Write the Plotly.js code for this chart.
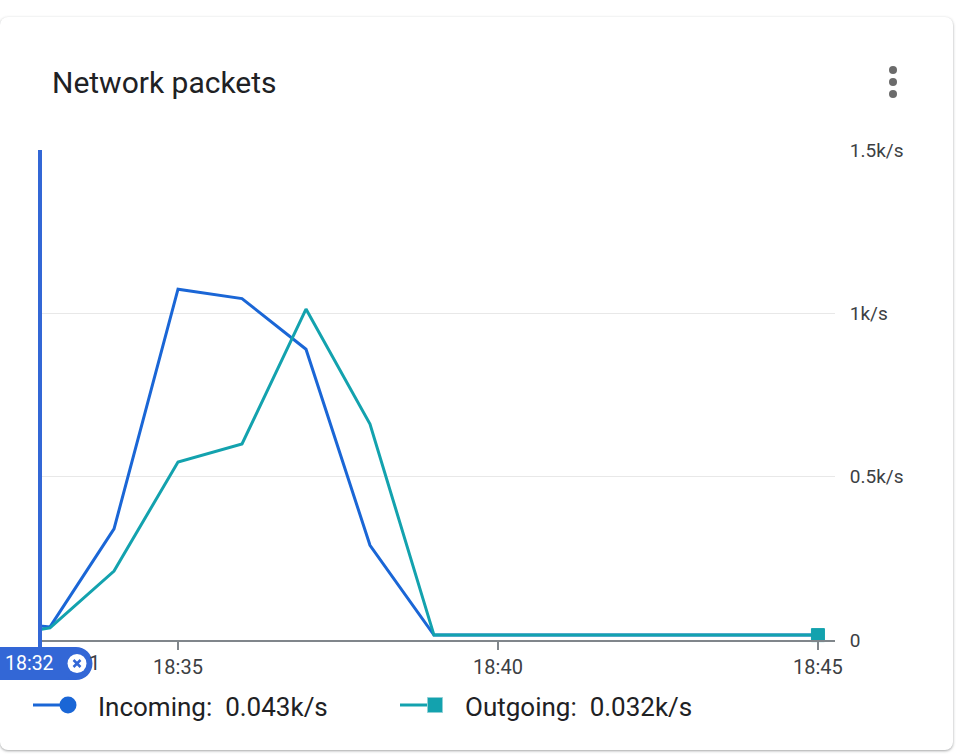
<!DOCTYPE html>
<html>
<head>
<meta charset="utf-8">
<script src="https://cdn.plot.ly/plotly-3.0.1.min.js"></script>
<style>
  html, body { margin: 0; padding: 0; background: #ffffff; width: 956px; height: 756px; overflow: hidden; }
  #card { position: absolute; left: 0; top: 17px; width: 953px; height: 733px; background: #ffffff;
          border-radius: 8px; box-shadow: 0 1px 3px rgba(60,64,67,0.35), 0 1px 2px rgba(60,64,67,0.15); }
  #chart { position: absolute; left: 0; top: 0; width: 956px; height: 756px; }
</style>
</head>
<body>
<div id="card"></div>
<div id="chart"></div>
<script>
// ---- data ----
const day = '2024-01-01 ';
const times = ['18:32:50.6', '18:33', '18:34', '18:35', '18:36', '18:37', '18:38', '18:39',
               '18:40', '18:41', '18:42', '18:43', '18:44', '18:45'];
const incoming = [43, 40, 340, 1074, 1045, 890, 290, 15, 15, 15, 15, 15, 15, 15];
const outgoing = [32, 37, 211, 545, 600, 1013, 661, 15, 15, 15, 15, 15, 15, 15];
const seriesNames = ['Incoming', 'Outgoing'];
const xTickTimes = ['18:35', '18:40', '18:45'];
const yTickVals = [0, 500, 1000, 1500];
const yTickText = ['0', '0.5k/s', '1k/s', '1.5k/s'];
const cursorLabel = '18:32';
const titleText = 'Network packets';

const blue = '#1a66d6';
const teal = '#13a2ae';
const cursorBlue = '#3367d6';
const x = times.map(t => day + t);
const lastIdx = outgoing.length - 1;

const fmt = v => (v / 1000).toFixed(3) + 'k/s';

const traces = [
  { x: x, y: incoming, name: seriesNames[0], type: 'scatter', mode: 'lines',
    line: { color: blue, width: 3 }, hoverinfo: 'skip' },
  { x: x, y: outgoing, name: seriesNames[1], type: 'scatter', mode: 'lines',
    line: { color: teal, width: 3 }, hoverinfo: 'skip' },
  { x: [x[lastIdx]], y: [outgoing[lastIdx]], name: seriesNames[1] + ' (latest)', type: 'scatter', mode: 'markers',
    marker: { symbol: 'square', color: teal, size: 13, opacity: 1, line: { color: teal, width: 1 } },
    cliponaxis: false, hoverinfo: 'skip' }
];

const px = (o) => Object.assign({ xref: 'paper', yref: 'paper', xsizemode: 'pixel', ysizemode: 'pixel',
                                  xanchor: 0, yanchor: 0, layer: 'above' }, o);

const shapes = [
  // cursor line (at first time point, which is the left edge of the plot)
  px({ type: 'line', x0: 0, x1: 0, y0: -12, y1: 490, line: { color: cursorBlue, width: 4 } }),
  // pill
  px({ type: 'rect', x0: -45, x1: 36, y0: -40, y1: -7, fillcolor: cursorBlue, line: { width: 0 } }),
  px({ type: 'circle', x0: 19.5, x1: 52.5, y0: -40, y1: -7, fillcolor: cursorBlue, line: { width: 0 } }),
  px({ type: 'circle', x0: 27.5, x1: 46.5, y0: -33, y1: -14, fillcolor: '#ffffff', line: { width: 0 } }),
  px({ type: 'line', x0: 33.5, x1: 40.5, y0: -27, y1: -20, line: { color: cursorBlue, width: 2.5 } }),
  px({ type: 'line', x0: 33.5, x1: 40.5, y0: -20, y1: -27, line: { color: cursorBlue, width: 2.5 } }),
  // legend symbols
  px({ type: 'line', x0: -7, x1: 22, y0: -65, y1: -65, line: { color: blue, width: 3 } }),
  px({ type: 'circle', x0: 19.5, x1: 36.5, y0: -73.5, y1: -56.5, fillcolor: blue, line: { width: 0 } }),
  px({ type: 'line', x0: 360, x1: 390, y0: -65, y1: -65, line: { color: teal, width: 3 } }),
  px({ type: 'rect', x0: 387.5, x1: 402.5, y0: -72.5, y1: -57.5, fillcolor: teal, line: { color: '#8fd0d6', width: 1 } }),
  // menu dots
  px({ type: 'circle', x0: 849, x1: 857, y0: 566, y1: 574, fillcolor: '#6b6b6b', line: { width: 0 } }),
  px({ type: 'circle', x0: 849, x1: 857, y0: 554, y1: 562, fillcolor: '#6b6b6b', line: { width: 0 } }),
  px({ type: 'circle', x0: 849, x1: 857, y0: 542, y1: 550, fillcolor: '#6b6b6b', line: { width: 0 } })
];

const annotations = [
  { xref: 'paper', yref: 'paper', x: 0, y: 0, xshift: 62, yshift: -23, xanchor: 'right', yanchor: 'middle',
    text: '1', showarrow: false, font: { family: 'Roboto', size: 20, color: '#3c4043' } },
  { xref: 'paper', yref: 'paper', x: 0, y: 0, xshift: -11, yshift: -23, xanchor: 'center', yanchor: 'middle',
    text: cursorLabel, showarrow: false, font: { family: 'Roboto', size: 19.5, color: '#ffffff' } },
  { xref: 'paper', yref: 'paper', x: 0, y: 0, xshift: 56, yshift: -67, xanchor: 'left', yanchor: 'middle',
    text: seriesNames[0] + ':\u00a0\u00a0' + fmt(incoming[0]), showarrow: false,
    font: { family: 'Roboto', size: 26, color: '#202124' } },
  { xref: 'paper', yref: 'paper', x: 0, y: 0, xshift: 423, yshift: -67, xanchor: 'left', yanchor: 'middle',
    text: seriesNames[1] + ':\u00a0\u00a0' + fmt(outgoing[0]), showarrow: false,
    font: { family: 'Roboto', size: 26, color: '#202124' } }
];

const layout = {
  width: 956, height: 756,
  margin: { l: 40, r: 121, t: 150, b: 116 },
  paper_bgcolor: 'rgba(0,0,0,0)', plot_bgcolor: 'rgba(0,0,0,0)',
  showlegend: false,
  title: { text: titleText, xref: 'container', yref: 'container', x: 52 / 956, xanchor: 'left',
           y: 1 - 82 / 756, yanchor: 'middle', font: { family: 'Roboto', size: 30, color: '#202124' } },
  xaxis: {
    type: 'date', range: [day + '18:32:50.6', day + '18:45:16'],
    tickvals: xTickTimes.map(t => day + t), ticktext: xTickTimes,
    showgrid: false, zeroline: false, showline: true, linecolor: '#80868b', linewidth: 2,
    ticks: 'outside', ticklen: 8, tickwidth: 2, tickcolor: '#80868b',
    tickfont: { family: 'Roboto', size: 20, color: '#3c4043' }, fixedrange: true
  },
  yaxis: {
    side: 'right', range: [0, 1500], tickvals: yTickVals, ticktext: yTickText,
    showgrid: true, gridcolor: '#e8e8e8', gridwidth: 1.5, zeroline: false, showline: false,
    ticks: 'outside', ticklen: 10, tickcolor: 'rgba(0,0,0,0)',
    tickfont: { family: 'Roboto', size: 19, color: '#3c4043' }, fixedrange: true
  },
  shapes: shapes,
  annotations: annotations
};

Plotly.newPlot('chart', traces, layout, { displayModeBar: false, staticPlot: true });
</script>
</body>
</html>
